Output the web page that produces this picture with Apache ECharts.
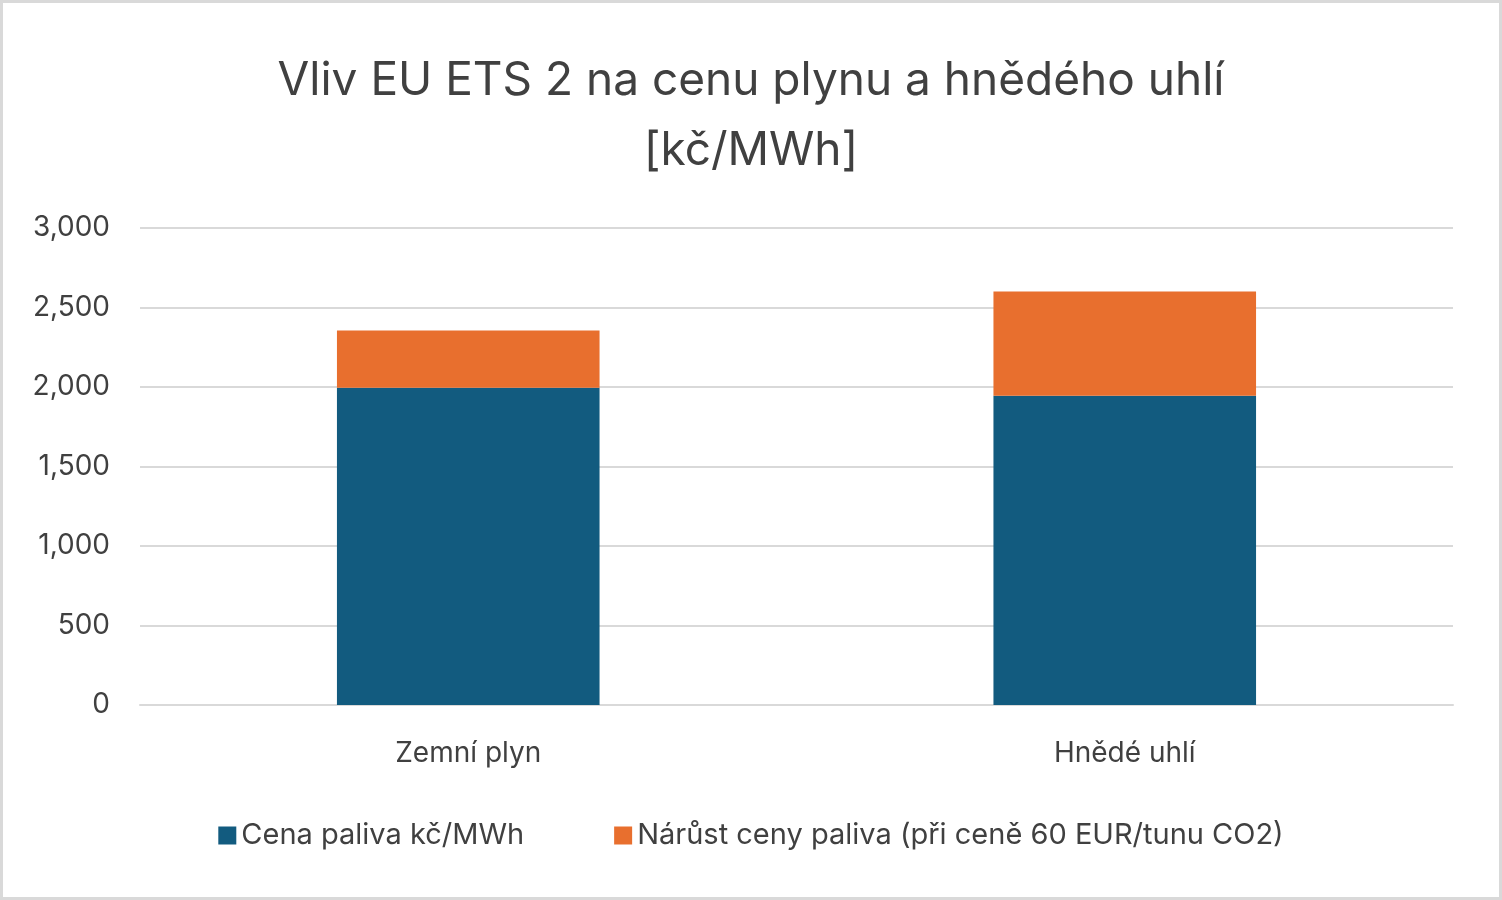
<!DOCTYPE html>
<html>
<head>
<meta charset="utf-8">
<script src="https://cdn.jsdelivr.net/npm/echarts@6/dist/echarts.min.js"></script>
<style>
  html, body { margin: 0; padding: 0; background: #fff; }
  #main { width: 1502px; height: 900px; box-sizing: border-box; border: 3px solid #d9d9d9; }
</style>
</head>
<body>
<div id="main"></div>
<script>
var categories = ['Zemní plyn', 'Hnědé uhlí'];
var cenaPaliva = [1995, 1945];
var narustCeny = [360, 655];
var yTicks = [0, 500, 1000, 1500, 2000, 2500, 3000];

var chart = echarts.init(document.getElementById('main'));
chart.setOption({
    title: {
        text: 'Vliv EU ETS 2 na cenu plynu a hnědého uhlí\n[kč/MWh]',
        left: 'center',
        top: 38,
        textStyle: { fontFamily: 'Inter, "Noto Sans"', fontWeight: 'normal', fontSize: 46, color: '#404040', lineHeight: 70 }
    },
    grid: { left: 137, right: 46, top: 225, bottom: 192 },
    legend: {
        bottom: 42,
        left: 'center',
        itemGap: 90,
        icon: 'rect',
        itemWidth: 18,
        itemHeight: 18,
        textStyle: { fontFamily: 'Inter, "Noto Sans"', fontSize: 29, color: '#404040' }
    },
    xAxis: {
        type: 'category',
        data: categories,
        axisTick: { show: false },
        axisLine: { lineStyle: { color: '#d9d9d9', width: 2 } },
        axisLabel: { fontFamily: 'Inter, "Noto Sans"', fontSize: 28, color: '#404040', margin: 35 }
    },
    yAxis: {
        type: 'value',
        min: yTicks[0],
        max: yTicks[yTicks.length - 1],
        interval: 500,
        axisLabel: { fontFamily: 'Inter, "Noto Sans"', fontSize: 28, color: '#404040', margin: 30 },
        splitLine: { lineStyle: { color: '#d9d9d9', width: 2 } }
    },
    series: [
        {
            name: 'Cena paliva kč/MWh',
            type: 'bar',
            stack: 'a',
            barWidth: '40%',
            data: cenaPaliva,
            itemStyle: { color: '#125b7f' }
        },
        {
            name: 'Nárůst ceny paliva (při ceně 60 EUR/tunu CO2)',
            type: 'bar',
            stack: 'a',
            data: narustCeny,
            itemStyle: { color: '#e86f2e' }
        }
    ]
});
</script>
</body>
</html>
